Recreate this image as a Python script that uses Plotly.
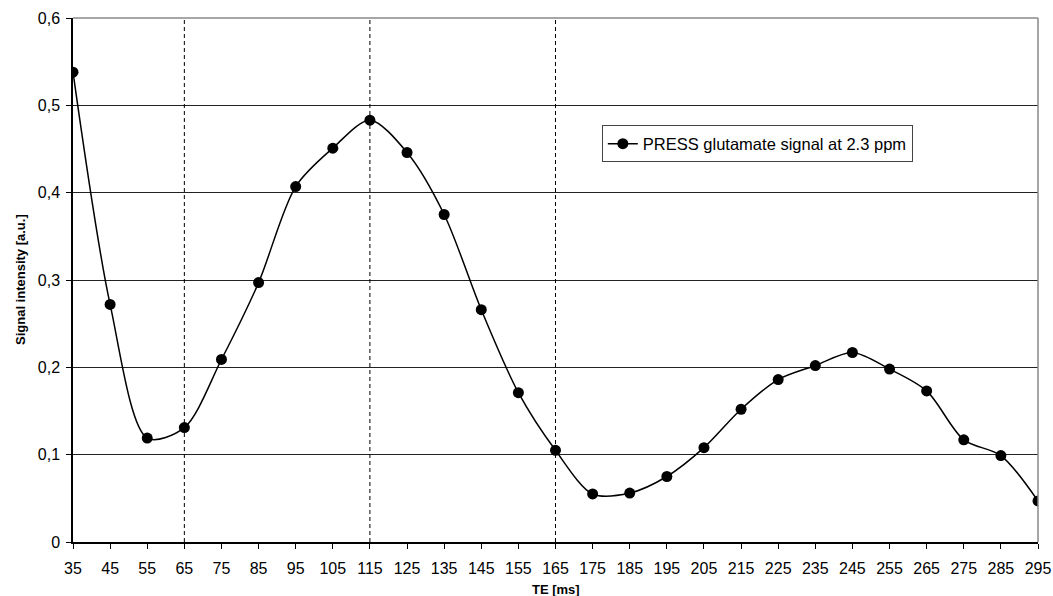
import plotly.graph_objects as go

te_ms = [35, 45, 55, 65, 75, 85, 95, 105, 115, 125, 135, 145, 155, 165, 175,
         185, 195, 205, 215, 225, 235, 245, 255, 265, 275, 285, 295]
signal = [0.538, 0.272, 0.119, 0.131, 0.209, 0.297, 0.407, 0.451, 0.483, 0.446,
          0.375, 0.266, 0.171, 0.105, 0.055, 0.056, 0.075, 0.108, 0.152, 0.186,
          0.202, 0.217, 0.198, 0.173, 0.117, 0.099, 0.047]
marker_te = [65, 115, 165]
y_tickvals = [0, 0.1, 0.2, 0.3, 0.4, 0.5, 0.6]
y_ticktext = ["0", "0,1", "0,2", "0,3", "0,4", "0,5", "0,6"]
series_name = "PRESS glutamate signal at 2.3 ppm"

FONT = "Liberation Sans, Arial, sans-serif"

fig = go.Figure()

for xv in marker_te:
    fig.add_trace(go.Scatter(
        x=[xv, xv], y=[y_tickvals[0], y_tickvals[-1]], mode="lines",
        line=dict(color="black", width=1, dash="4px,3px"),
        showlegend=False, hoverinfo="skip"))

fig.add_trace(go.Scatter(
    x=te_ms, y=signal, mode="lines+markers", name=series_name,
    line=dict(color="black", width=1.5, shape="spline", smoothing=0.85),
    marker=dict(color="black", size=11, symbol="circle"),
))

fig.update_layout(
    width=1053, height=596,
    margin=dict(l=73, r=15, t=18, b=54, autoexpand=False),
    paper_bgcolor="white", plot_bgcolor="white",
    font=dict(family=FONT, size=16, color="black"),
    showlegend=True,
    legend=dict(x=0.548, y=0.795, xanchor="left", yanchor="top",
                bgcolor="white", bordercolor="#444", borderwidth=1,
                font=dict(family=FONT, size=16.5, color="black"),
                itemwidth=30, tracegroupgap=0),
    annotations=[
        dict(text="<b>Signal intensity [a.u.]</b>", x=0, y=0.5, xref="paper", yref="paper",
             xanchor="center", yanchor="middle", xshift=-53, textangle=-90,
             showarrow=False, font=dict(family=FONT, size=13, color="black")),
        dict(text="<b>TE [ms]</b>", x=0.5, y=0, xref="paper", yref="paper",
             xanchor="center", yanchor="middle", yshift=-47,
             showarrow=False, font=dict(family=FONT, size=13, color="black")),
    ],
)

fig.update_xaxes(
    range=[te_ms[0], te_ms[-1]], tickvals=te_ms, automargin=False,
    ticks="outside", ticklen=5, tickcolor="black", tickwidth=1,
    ticklabelstandoff=6,
    showline=True, linecolor="black", linewidth=1.5,
    mirror=False, showgrid=False, zeroline=False,
    tickfont=dict(family=FONT, size=16, color="black"),
)
fig.update_yaxes(
    range=[0, 0.6], tickvals=y_tickvals, ticktext=y_ticktext, automargin=False,
    ticks="outside", ticklen=5, tickcolor="black", tickwidth=1,
    ticklabelstandoff=3,
    showline=True, linecolor="black", linewidth=1.5,
    showgrid=True, gridcolor="#222", gridwidth=1, zeroline=False,
    tickfont=dict(family=FONT, size=16, color="black"),
)

# gray frame at top and right of plot area
fig.add_shape(type="line", xref="paper", yref="paper", x0=0, x1=1, y0=1, y1=1,
              line=dict(color="#888", width=1.5), layer="above")
fig.add_shape(type="line", xref="paper", yref="paper", x0=1, x1=1, y0=0, y1=1,
              line=dict(color="#888", width=1.5), layer="above")

fig.write_html("out.html")
